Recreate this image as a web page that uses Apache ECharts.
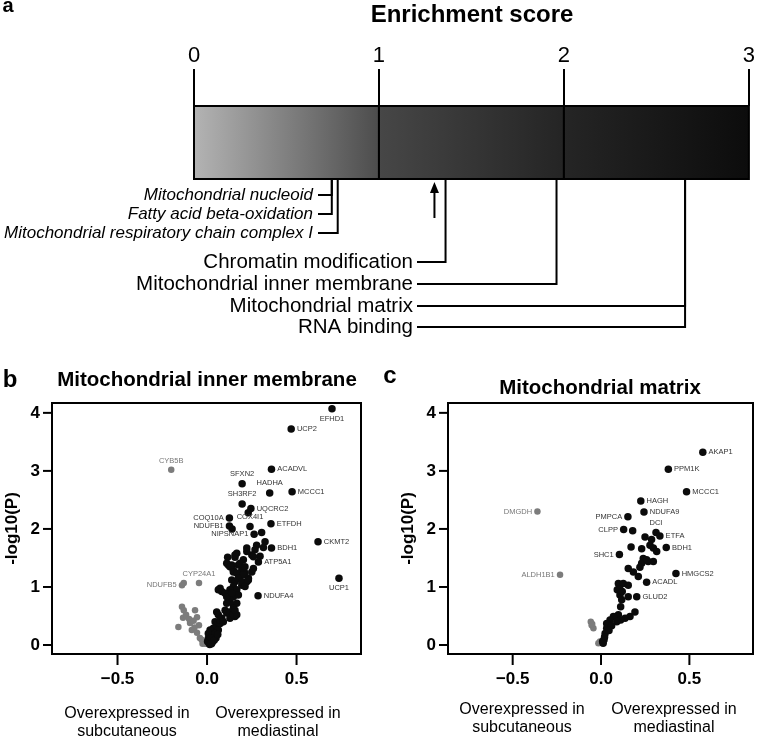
<!DOCTYPE html>
<html><head><meta charset="utf-8">
<script src="https://cdn.jsdelivr.net/npm/echarts@6/dist/echarts.min.js"></script>
<style>html,body{margin:0;padding:0;background:#fff}#c{width:758px;height:744px}</style>
</head><body><div id="c"></div>
<script>
// ---------- Panel a : enrichment score ----------
const scoreTicks = [0, 1, 2, 3];
const segStart = [0, 1, 2];
const segEnd = [1, 2, 3];
const termNames = ['Mitochondrial nucleoid', 'Fatty acid beta-oxidation', 'Mitochondrial respiratory chain complex I',
  'Chromatin modification', 'Mitochondrial inner membrane', 'Mitochondrial matrix', 'RNA binding'];
const termScores = [0.745, 0.745, 0.777, 1.36, 1.96, 2.655, 2.655];
const arrowScore = [1.30];

// ---------- Panel b : Mitochondrial inner membrane ----------
const bGeneNames = ['EFHD1','UCP2','CYB5B','ACADVL','SFXN2','HADHA','MCCC1','SH3RF2','UQCRC2','COQ10A','COX4I1','NDUFB1','ETFDH','NIPSNAP1','CKMT2','BDH1','ATP5A1','UCP1','NDUFA4','CYP24A1','NDUFB5'];
const bGeneX = [0.698,0.47,-0.20,0.36,0.196,0.35,0.475,0.196,0.245,0.125,0.24,0.125,0.357,0.263,0.62,0.36,0.287,0.737,0.285,-0.045,-0.14];
const bGeneY = [4.07,3.72,3.02,3.03,2.78,2.62,2.64,2.43,2.35,2.19,2.04,2.05,2.09,1.91,1.78,1.67,1.43,1.15,0.85,1.07,1.03];
const bOtherX = [0.23,0.14,0.305,0.324,0.277,0.222,0.268,0.315,0.166,0.250,0.296,0.115,0.156,0.203,0.110,0.138,0.175,0.194,0.147,0.212,0.250,0.184,
  0.156,0.259,0.222,0.119,0.128,0.184,0.212,0.259,0.147,0.166,0.203,0.231,0.138,0.156,0.175,0.222,0.194,0.147,0.128,0.166,0.073,0.063,0.082,0.101,
  0.147,0.175,0.128,0.110,0.147,0.166,0.101,0.128,0.147,0.156,0.110,0.054,0.063,0.082,0.045,0.054,0.073,0.035,0.026,0.017,0.035,0.007,0.026,0.003,
  0.017,0.063,0.073,0.091,0.128,0.147,0.166,0.156,0.110,0.138,0.194,0.212,0.231,0.007,0.045,0.011,0.03,0.05,0.02,0.04,0.06,0.015,0.025];
const bOtherY = [2.28,2.00,1.94,1.78,1.72,1.67,1.64,1.68,1.58,1.55,1.53,1.51,1.51,1.47,1.41,1.38,1.38,1.29,1.29,1.24,1.26,1.18,
  1.55,1.52,1.61,1.38,1.35,1.41,1.35,1.32,1.26,1.24,1.21,1.15,1.12,1.09,1.15,1.09,1.03,1.01,0.95,0.95,0.98,0.95,0.92,0.89,
  0.83,0.86,0.78,0.72,0.69,0.72,0.60,0.57,0.63,0.49,0.55,0.57,0.52,0.46,0.40,0.34,0.37,0.29,0.23,0.17,0.14,0.11,0.09,0.06,
  0.26,0.26,0.43,0.40,0.46,0.52,0.52,0.60,0.83,0.89,1.09,1.01,1.12,0.20,0.20,0.03,0.05,0.12,0.12,0.08,0.18,0.01,0.02];
const bDownX = [-0.13,-0.14,-0.13,-0.067,-0.134,-0.16,-0.095,-0.085,-0.056,-0.04,-0.02,-0.025,-0.117,-0.056,-0.045,-0.07,-0.03,-0.01,-0.10,-0.075];
const bDownY = [1.07,0.66,0.60,0.60,0.47,0.31,0.38,0.26,0.21,0.12,0.05,0.02,0.52,0.48,0.34,0.30,0.09,0.02,0.45,0.42];

// ---------- Panel c : Mitochondrial matrix ----------
const cGeneNames = ['AKAP1','PPM1K','MCCC1','HAGH','NDUFA9','DMGDH','PMPCA','CLPP','DCI','ETFA','BDH1','SHC1','HMGCS2','ACADL','GLUD2','ALDH1B1'];
const cGeneX = [0.576,0.381,0.484,0.225,0.243,-0.36,0.152,0.128,0.311,0.333,0.369,0.104,0.424,0.258,0.202,-0.232];
const cGeneY = [3.32,3.03,2.64,2.48,2.29,2.30,2.21,1.99,1.94,1.88,1.68,1.56,1.23,1.08,0.83,1.21];
const cOtherX = [0.179,0.249,0.286,0.277,0.296,0.315,0.170,0.230,0.239,0.267,0.296,0.230,0.220,0.154,0.183,0.211,0.258,0.098,0.126,0.154,0.092,
  0.107,0.117,0.154,0.111,0.098,0.070,0.051,0.032,0.032,0.023,0.017,0.009,0.164,0.192,0.136,0.111,0.089,0.060,0.045,0.105,0.120,0.020,0.012];
const cOtherY = [1.97,1.86,1.82,1.72,1.67,1.61,1.69,1.66,1.49,1.44,1.44,1.41,1.34,1.32,1.26,1.18,1.47,1.06,1.06,1.03,0.95,
  0.86,0.78,0.83,0.66,0.52,0.49,0.43,0.37,0.29,0.20,0.09,0.06,0.49,0.57,0.46,0.43,0.40,0.33,0.25,0.97,0.92,0.14,0.03];
const cDownX = [-0.058,-0.053,-0.043,-0.015,-0.006,-0.05];
const cDownY = [0.40,0.34,0.29,0.03,0.06,0.36];

const volcanoTicksX = [-0.5, 0, 0.5];
const volcanoTicksY = [0, 1, 2, 3, 4];
const volcanoXRange = [-0.866, 0.86];
const volcanoYRange = [-0.155, 4.17];

// ---------- styles / layout ----------
const FONT = '"Liberation Sans", Arial, sans-serif';
const segFrom = ['#b4b4b4', '#474747', '#252525'];
const segTo = ['#4c4c4c', '#242424', '#0c0c0c'];
const rowOffset = [16, 35, 54, 83, 105, 127, 148];
const labelPos = {EFHD1:'bottom',UCP2:'right',CYB5B:'top',ACADVL:'right',SFXN2:'top',HADHA:'top',MCCC1:'right',SH3RF2:'top',
  UQCRC2:'right',COQ10A:'left',COX4I1:'top',NDUFB1:'left',ETFDH:'right',NIPSNAP1:'left',CKMT2:'right',BDH1:'right',ATP5A1:'right',
  UCP1:'bottom',NDUFA4:'right',CYP24A1:'top',NDUFB5:'left',AKAP1:'right',PPM1K:'right',HAGH:'right',NDUFA9:'right',DMGDH:'left',
  PMPCA:'left',CLPP:'left',DCI:'top',ETFA:'right',SHC1:'left',HMGCS2:'right',ACADL:'right',GLUD2:'right',ALDH1B1:'left'};
const BLACK = '#0b0b0b', GRAY = '#7c7c7c';

const chart = echarts.init(document.getElementById('c'), null, {renderer: 'canvas'});

function zip(xs, ys) { return xs.map((x, i) => [x, ys[i]]); }
function geneData(names, xs, ys) {
  return names.map((n, i) => ({
    name: n, value: [xs[i], ys[i]],
    itemStyle: {color: xs[i] < 0 ? GRAY : BLACK, opacity: 1},
    symbolSize: xs[i] < 0 ? 6.5 : 7.5,
    label: {position: labelPos[n] || 'right', color: xs[i] < 0 ? '#777' : '#333'}
  }));
}
const minus = v => (v < 0 ? '\u2212' : '') + Math.abs(v).toFixed(1);

function volcanoX(gi) {
  return {gridIndex: gi, type: 'value', min: volcanoXRange[0], max: volcanoXRange[1], position: 'bottom',
    axisLine: {show: false, onZero: false}, splitLine: {show: false}, axisTick: {show: false},
    axisLabel: {customValues: volcanoTicksX, formatter: minus, fontSize: 17, fontWeight: 'bold', color: '#000', margin: 17, fontFamily: FONT}};
}
function volcanoY(gi) {
  return {gridIndex: gi, type: 'value', min: volcanoYRange[0], max: volcanoYRange[1], position: 'left',
    axisLine: {show: false, onZero: false}, splitLine: {show: false}, axisTick: {show: false},
    axisLabel: {customValues: volcanoTicksY, fontSize: 17, fontWeight: 'bold', color: '#000', margin: 12, fontFamily: FONT},
    name: '-log10(P)', nameLocation: 'middle', nameRotate: 90, nameGap: 31,
    nameTextStyle: {fontSize: 17, fontWeight: 'bold', color: '#000', fontFamily: FONT}};
}
const labelStyle = {show: true, formatter: '{b}', fontSize: 7.5, fontFamily: FONT, distance: 2};

function txt(text, x, y, size, opts) {
  return {type: 'text', x: x, y: y, style: Object.assign({text: text, fontSize: size, fontFamily: FONT, fill: '#000', align: 'center', verticalAlign: 'middle'}, opts || {})};
}
const baseGraphic = [
  txt('a', 8, 6, 20, {fontWeight: 'bold'}),
  txt('Enrichment score', 472, 15, 24, {fontWeight: 'bold'}),
  txt('b', 10, 380, 24, {fontWeight: 'bold'}),
  txt('Mitochondrial inner membrane', 207, 380, 20.5, {fontWeight: 'bold'}),
  txt('c', 390, 376, 24, {fontWeight: 'bold'}),
  txt('Mitochondrial matrix', 600, 388, 20.5, {fontWeight: 'bold'}),
  txt('Overexpressed in', 127, 714, 16), txt('subcutaneous', 127, 732, 16),
  txt('Overexpressed in', 278, 714, 16), txt('mediastinal', 278, 732, 16),
  txt('Overexpressed in', 522, 710, 16), txt('subcutaneous', 522, 728, 16),
  txt('Overexpressed in', 674, 710, 16), txt('mediastinal', 674, 728, 16)
];

const option = {
  animation: false,
  backgroundColor: '#fff',
  grid: [
    {left: 194, top: 106, width: 556, height: 73, show: false},
    {left: 52, top: 403, width: 309, height: 251, show: true, borderColor: '#000', borderWidth: 2, backgroundColor: 'transparent'},
    {left: 448, top: 403, width: 305, height: 251, show: true, borderColor: '#000', borderWidth: 2, backgroundColor: 'transparent'}
  ],
  xAxis: [
    {gridIndex: 0, type: 'value', position: 'top', min: 0, max: 3, interval: 1,
      axisLine: {show: false, onZero: false}, splitLine: {show: false},
      axisTick: {show: true, length: 37, lineStyle: {color: '#000', width: 2}},
      axisLabel: {fontSize: 22, color: '#000', margin: 39, fontFamily: FONT,
        formatter: v => scoreTicks.includes(v) ? String(v) : ''}},
    volcanoX(1), volcanoX(2)
  ],
  yAxis: [
    {gridIndex: 0, type: 'value', min: 0, max: 1, show: false},
    volcanoY(1), volcanoY(2)
  ],
  graphic: baseGraphic,
  series: [
    { // gradient bar
      type: 'custom', xAxisIndex: 0, yAxisIndex: 0, clip: false, z: 2,
      data: segStart.map((s, i) => [s, segEnd[i]]),
      renderItem: function (params, api) {
        const p0 = api.coord([api.value(0), 1]);
        const p1 = api.coord([api.value(1), 0]);
        const i = params.dataIndex;
        return {type: 'rect', shape: {x: p0[0], y: p0[1], width: p1[0] - p0[0], height: p1[1] - p0[1]},
          style: {fill: new echarts.graphic.LinearGradient(0, 0, 1, 0, [{offset: 0, color: segFrom[i]}, {offset: 1, color: segTo[i]}]),
            stroke: '#000', lineWidth: 2}};
      }
    },
    { // GO term annotations
      type: 'custom', xAxisIndex: 0, yAxisIndex: 0, clip: false, z: 3,
      data: termScores.map((s, i) => ({name: termNames[i], value: [s, i]})),
      renderItem: function (params, api) {
        const i = api.value(1);
        const x = api.coord([api.value(0), 0])[0];
        const yBar = api.coord([0, 0])[1];
        const y = yBar + rowOffset[i];
        const italic = i < 3;
        const lineStart = italic ? 318 : 417;
        const labelRight = italic ? 313 : 413;
        return {type: 'group', children: [
          {type: 'polyline', shape: {points: [[x, yBar], [x, y], [lineStart, y]]}, style: {stroke: '#000', lineWidth: 2, fill: null}},
          {type: 'text', style: {text: termNames[i], x: labelRight, y: y, align: 'right', verticalAlign: 'middle',
            font: (italic ? 'italic 17px ' : '20.5px ') + FONT, fill: '#000'}}
        ]};
      }
    },
    { // arrow
      type: 'custom', xAxisIndex: 0, yAxisIndex: 0, clip: false, z: 3,
      data: arrowScore.map(s => [s]),
      renderItem: function (params, api) {
        const x = api.coord([api.value(0), 0])[0];
        const yBar = api.coord([0, 0])[1];
        return {type: 'group', children: [
          {type: 'line', shape: {x1: x, y1: yBar + 39, x2: x, y2: yBar + 10}, style: {stroke: '#000', lineWidth: 2}},
          {type: 'polygon', shape: {points: [[x, yBar + 3], [x - 4.5, yBar + 14], [x + 4.5, yBar + 14]]}, style: {fill: '#000'}}
        ]};
      }
    },
    {type: 'scatter', xAxisIndex: 1, yAxisIndex: 1, data: zip(bDownX, bDownY), symbolSize: 6.5, itemStyle: {color: GRAY, opacity: 1}, z: 3},
    {type: 'scatter', xAxisIndex: 1, yAxisIndex: 1, data: zip(bOtherX, bOtherY), symbolSize: 7.5, itemStyle: {color: BLACK, opacity: 1}, z: 4},
    {type: 'scatter', xAxisIndex: 1, yAxisIndex: 1, data: geneData(bGeneNames, bGeneX, bGeneY), label: labelStyle, z: 5},
    {type: 'scatter', xAxisIndex: 2, yAxisIndex: 2, data: zip(cDownX, cDownY), symbolSize: 6.5, itemStyle: {color: GRAY, opacity: 1}, z: 3},
    {type: 'scatter', xAxisIndex: 2, yAxisIndex: 2, data: zip(cOtherX, cOtherY), symbolSize: 7.5, itemStyle: {color: BLACK, opacity: 1}, z: 4},
    {type: 'scatter', xAxisIndex: 2, yAxisIndex: 2, data: geneData(cGeneNames, cGeneX, cGeneY), label: labelStyle, z: 5}
  ]
};
chart.setOption(option);

// R-style outward ticks: positions come from the library's own axis scales
const tickGraphic = [];
[1, 2].forEach(function (gi) {
  volcanoTicksX.forEach(function (v) {
    const p = chart.convertToPixel({gridIndex: gi}, [v, volcanoYRange[0]]);
    tickGraphic.push({type: 'line', z: 100, shape: {x1: p[0], y1: p[1], x2: p[0], y2: p[1] + 11}, style: {stroke: '#000', lineWidth: 2}});
  });
  volcanoTicksY.forEach(function (v) {
    const p = chart.convertToPixel({gridIndex: gi}, [volcanoXRange[0], v]);
    tickGraphic.push({type: 'line', z: 100, shape: {x1: p[0], y1: p[1], x2: p[0] - 9, y2: p[1]}, style: {stroke: '#000', lineWidth: 2}});
  });
});
chart.setOption({graphic: baseGraphic.concat(tickGraphic)});
</script>
</body></html>
